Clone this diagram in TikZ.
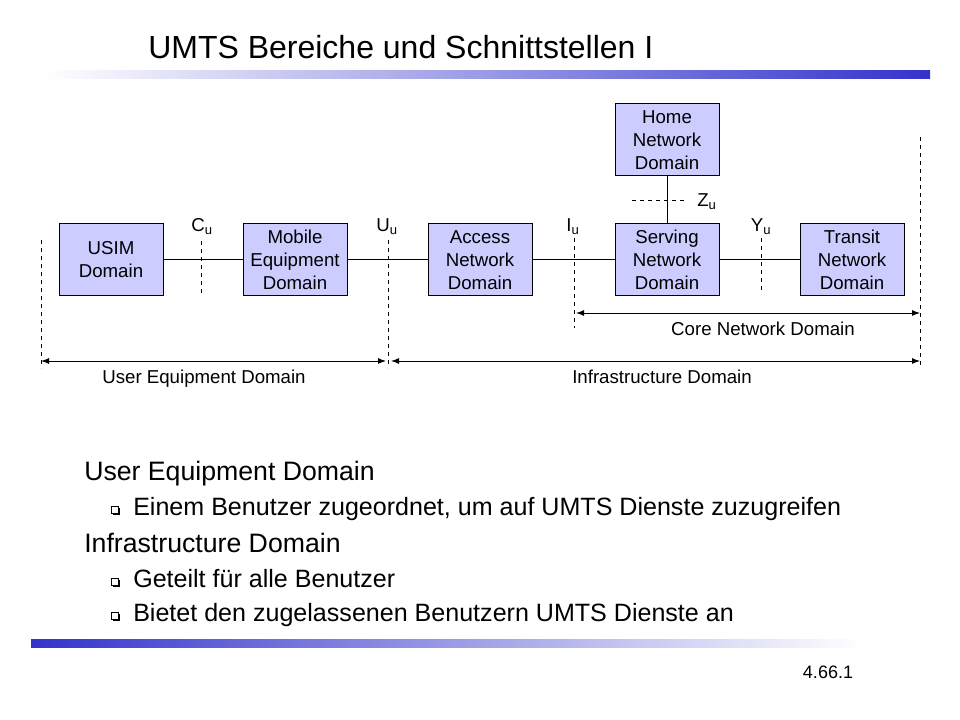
\documentclass[tikz,border=0pt]{standalone}
\usepackage{fontspec}
\setmainfont{Liberation Sans}
\usetikzlibrary{arrows.meta}
\definecolor{boxfill}{HTML}{CCCCFF}
\definecolor{barblue}{HTML}{3333CC}
\begin{document}
\begin{tikzpicture}[x=0.75pt, y=-0.75pt,
    dombox/.style={draw=black, fill=boxfill, line width=0.75pt, minimum width=78pt, minimum height=54pt, inner sep=0pt, align=center, font=\fontsize{14}{17.25}\selectfont},
    iface/.style={dashed, line width=0.75pt},
    link/.style={line width=0.75pt},
    dimarrow/.style={{Latex[length=6pt,width=4.5pt]}-{Latex[length=6pt,width=4.5pt]}, line width=0.75pt},
    lbl/.style={anchor=base, inner sep=0pt, font=\fontsize{14}{17}\selectfont},
    mainpt/.style={anchor=base west, inner sep=0pt, font=\fontsize{20}{24}\selectfont},
    subpt/.style={anchor=base west, inner sep=0pt, font=\fontsize{18.8}{22}\selectfont}]
    \useasboundingbox (0,0) rectangle (960,720);
    % title and bars
    \node[anchor=base west, inner sep=0pt, font=\fontsize{24}{28}\selectfont] (title) at (148,59) {UMTS Bereiche und Schnittstellen I};
    \shade[left color=white, right color=barblue] (45,71) rectangle (930,79);
    \shade[left color=barblue, right color=white] (31,639) rectangle (862,647);
    % domains
    \node[dombox] (usim) at (111,260) {USIM\\Domain};
    \node[dombox] (me) at (295,260) {Mobile\\Equipment\\Domain};
    \node[dombox] (an) at (480,260) {Access\\Network\\Domain};
    \node[dombox] (sn) at (667,260) {Serving\\Network\\Domain};
    \node[dombox] (tn) at (852,260) {Transit\\Network\\Domain};
    \node[dombox] (hn) at (667,140) {Home\\Network\\Domain};
    \draw[link] (usim) -- (me) -- (an) -- (sn) -- (tn);
    \draw[link] (hn) -- (sn);
    % interfaces
    \foreach \n/\x/\ya/\yb in {left/41/240/368, cu/201/241/294, uu/388/240/368, iu/574/238/328, yu/761/238/294, right/920/137/368}{
        \draw[iface] (\x,\ya) coordinate (\n-a) -- (\x,\yb) coordinate (\n-b);
    }
    \draw[iface] (632,201) coordinate (zu-a) -- (687,201) coordinate (zu-b);
    \node[lbl] (cu) at (202,232) {C\textsubscript{u}};
    \node[lbl] (uu) at (387,232) {U\textsubscript{u}};
    \node[lbl] (iu) at (573,232) {I\textsubscript{u}};
    \node[lbl] (yu) at (761,232) {Y\textsubscript{u}};
    \node[lbl] (zu) at (707,207) {Z\textsubscript{u}};
    % spans
    \coordinate (ue-l) at (41,361);
    \coordinate (ue-r) at (386,361);
    \coordinate (inf-l) at (391,361);
    \coordinate (inf-r) at (920,361);
    \coordinate (core-l) at (576,313);
    \coordinate (core-r) at (920,313);
    \draw[dimarrow] (ue-l) -- (ue-r);
    \draw[dimarrow] (inf-l) -- (inf-r);
    \draw[dimarrow] (core-l) -- (core-r);
    \node[lbl] (uelbl) at (204,383) {User Equipment Domain};
    \node[lbl] (inflbl) at (662,383) {Infrastructure Domain};
    \node[lbl] (corelbl) at (763,335) {Core Network Domain};
    % bullets
    \node[mainpt] (ued) at (84,480) {User Equipment Domain};
    \node[mainpt] (infd) at (84,552) {Infrastructure Domain};
    \foreach \y/\t [count=\i] in {515/{Einem Benutzer zugeordnet, um auf UMTS Dienste zuzugreifen}, 587/{Geteilt für alle Benutzer}, 621/{Bietet den zugelassenen Benutzern UMTS Dienste an}}{
        \draw[line width=0.5pt] (111,\y-9) rectangle (118,\y-2);
        \fill (112.5,\y-2) rectangle (119.5,\y-0.5);
        \fill (118,\y-7.5) rectangle (119.5,\y-0.5);
        \node[subpt] (sub\i) at (133,\y) {\t};
    }
    \node[lbl, font=\fontsize{13.5}{16}\selectfont] (pnum) at (828,678) {4.66.1};
\end{tikzpicture}
\end{document}
